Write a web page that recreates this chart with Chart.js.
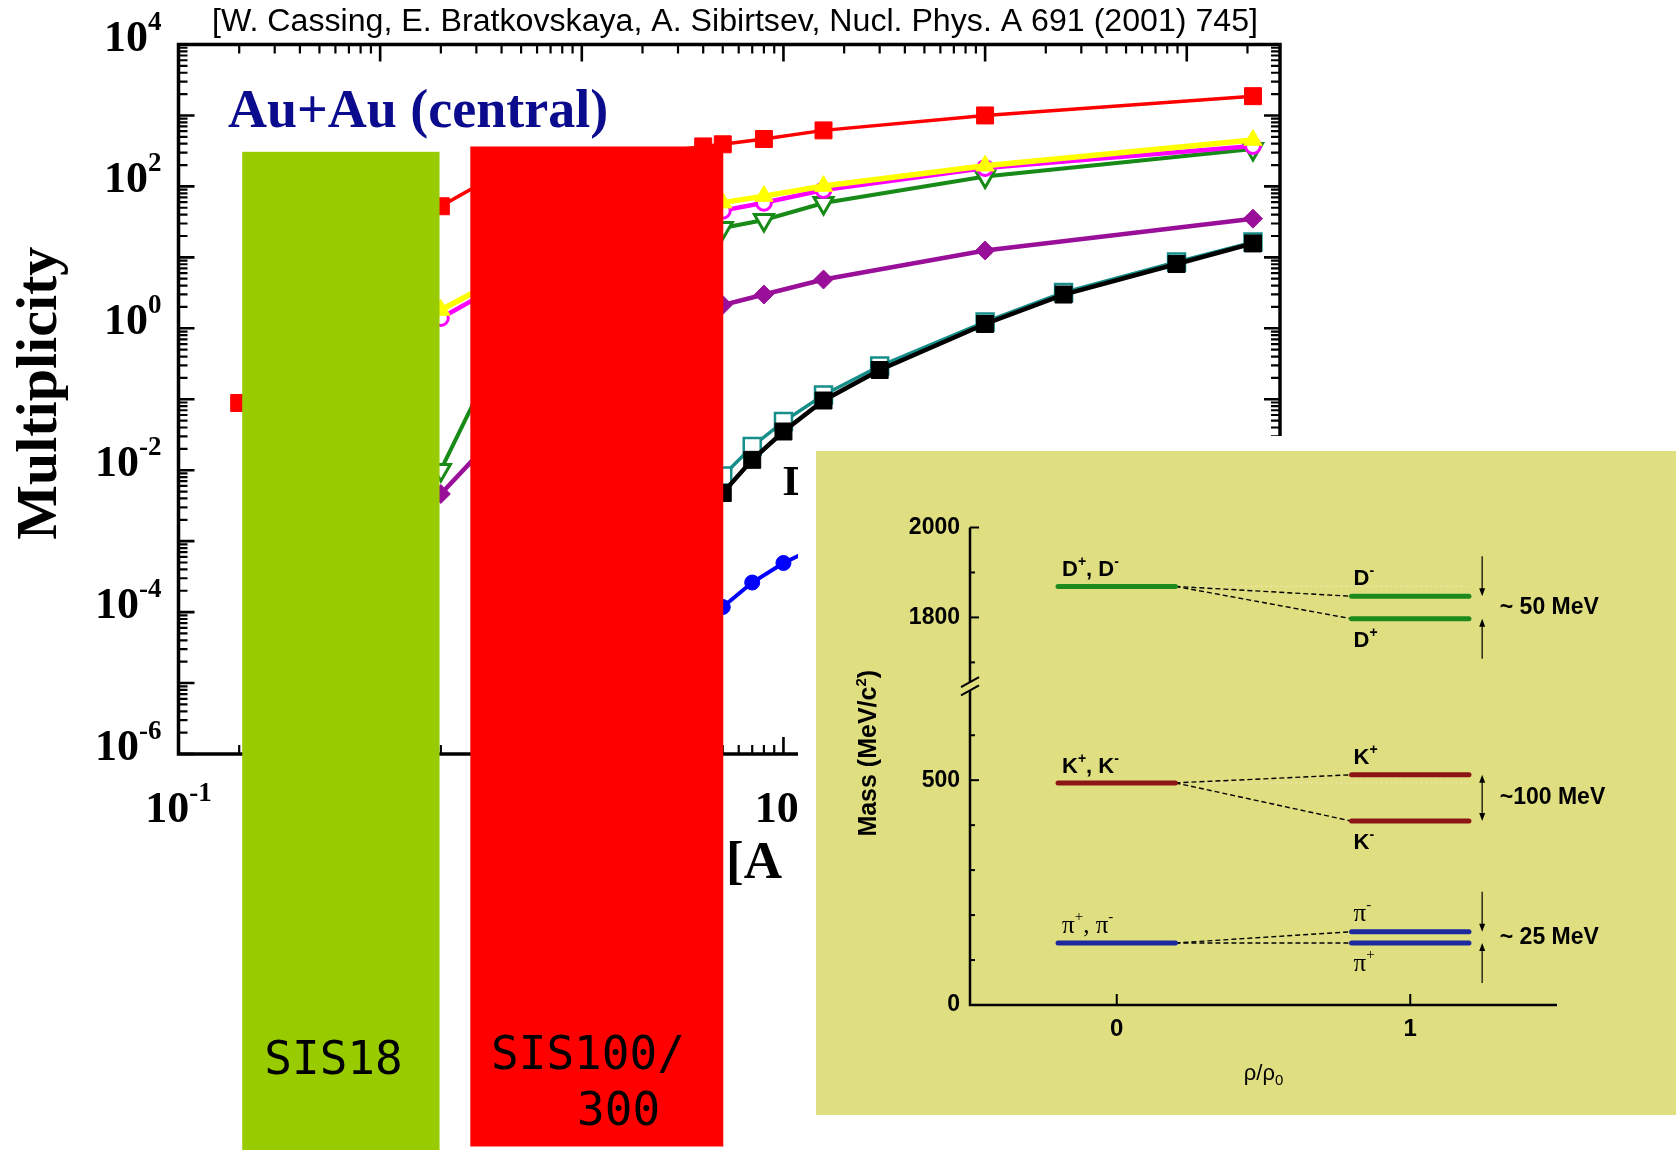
<!DOCTYPE html>
<html>
<head>
<meta charset="utf-8">
<script src="https://cdn.jsdelivr.net/npm/chart.js@4.4.0/dist/chart.umd.min.js"></script>
<style>
  html, body { margin: 0; padding: 0; background: #fff; }
  #page { position: relative; width: 1676px; height: 1150px; overflow: hidden; background: #fff; }
  #main { position: absolute; left: 0; top: 0; }
  #insetMargin { position: absolute; left: 798px; top: 436px; width: 878px; height: 714px; background: #fff; }
  #insetBox { position: absolute; left: 816px; top: 451px; width: 860px; height: 664px; background: #dfde80; }
  #inset { position: absolute; left: 0; top: 0; }
</style>
</head>
<body>
<div id="page">
  <canvas id="main" width="1676" height="1150"></canvas>
  <div id="insetMargin"></div>
  <div id="insetBox"><canvas id="inset" width="860" height="664"></canvas></div>
</div>
<script>
// ---------- Main panel: central Au+Au multiplicities vs. beam energy [A GeV] ----------
const xTickExps = [-1, 0, 1, 2, 3, 4];
const yTickExps = [4, 2, 0, -2, -4, -6];

const eRed = [0.2, 2, 4, 40, 50, 80, 158, 1000, 21300];
const nRed = [0.0885, 52.5, 160, 366, 392, 466, 616, 1000, 1870];

const eYellow = [2, 4, 50, 80, 158, 1000, 21300];
const nYellow = [1.81, 5.2, 59, 73, 101, 196, 450];

const eMagenta = [2, 4, 50, 80, 158, 1000, 21300];
const nMagenta = [1.40, 4.2, 45.5, 58.9, 89, 182, 371];

const eGreen = [2, 4, 50, 80, 158, 1000, 21300];
const nGreen = [0.0101, 0.57, 25.9, 33.6, 58.3, 138, 336];

const ePurple = [2, 4, 50, 80, 158, 1000, 21300];
const nPurple = [0.00462, 0.0376, 2.13, 2.99, 4.88, 12.5, 35.1];

const eCharm = [50, 70, 100, 158, 300, 1000, 2450, 8900, 21300];
const nBlack = [0.00477, 0.0140, 0.0351, 0.0960, 0.258, 1.15, 2.99, 8.05, 15.7];
const nTeal = [0.00828, 0.0216, 0.0485, 0.115, 0.294, 1.23, 3.2, 8.6, 16.4];

const eBlue = [50, 70, 100, 158];
const nBlue = [1.18e-4, 2.61e-4, 4.92e-4, 9.2e-4];

// accelerator energy bands [A GeV]
const bandLabels = [['SIS18'], ['SIS100/', '300']];
const bandLow = [0.207, 2.8];
const bandHigh = [1.97, 50.3];

const citation = '[W. Cassing, E. Bratkovskaya, A. Sibirtsev, Nucl. Phys. A 691 (2001) 745]';
const systemLabel = 'Au+Au (central)';

// ---------- Inset: meson masses in nuclear matter ----------
const rhoColumns = [0, 1];
const mesonNames = ['D', 'K', 'π'];
const vacuumMass = [1869, 494, 138];
const mediumMassHigh = [1847, 512, 163];
const mediumMassLow = [1797, 409, 138];
const splitText = ['~ 50 MeV', '~100 MeV', '~ 25 MeV'];
const massTicksMajor = [0, 500, 1800, 2000];
const massTicksMinor = [100, 200, 300, 400, 600, 1700, 1900];
const rhoTicks = [0, 1];

const SERIF = '"Liberation Serif", "Times New Roman", serif';
const SANS = '"Liberation Sans", Arial, sans-serif';

function pts(e, n) { return e.map((v, i) => ({ x: v, y: n[i] })); }

// text made of normal / superscript / subscript runs
function richText(ctx, parts, x, y, fonts, align) {
  const widths = parts.map(([t, k]) => { ctx.font = fonts[k].font; return ctx.measureText(t).width; });
  const total = widths.reduce((s, w) => s + w, 0);
  let cx = align === 'center' ? x - total / 2 : align === 'right' ? x - total : x;
  ctx.textAlign = 'left';
  parts.forEach(([t, k], i) => {
    ctx.font = fonts[k].font;
    ctx.fillText(t, cx, y + (fonts[k].dy || 0));
    cx += widths[i];
  });
  return total;
}

function powerLabel(ctx, exp, x, y, align) {
  const fonts = { n: { font: 'bold 44px ' + SERIF }, s: { font: 'bold 27px ' + SERIF, dy: -21 } };
  richText(ctx, [['10', 'n'], [String(exp), 's']], x, y, fonts, align);
}

const mainDecor = {
  id: 'mainDecor',
  afterDraw(chart) {
    const { ctx, chartArea: a, scales: { x, y } } = chart;
    ctx.save();
    ctx.fillStyle = '#000';
    ctx.strokeStyle = '#000';
    ctx.textBaseline = 'alphabetic';

    // log ticks on all four sides, pointing inwards
    ctx.lineCap = 'butt';
    for (let d = -1; d <= 4; d++) {
      for (let m = 1; m <= 9; m++) {
        const v = m * Math.pow(10, d);
        if (v < x.min || v > x.max) continue;
        const px = x.getPixelForValue(v);
        const len = m === 1 ? 17 : 9;
        ctx.lineWidth = m === 1 ? 2.6 : 2.2;
        ctx.beginPath();
        ctx.moveTo(px, a.bottom); ctx.lineTo(px, a.bottom - len);
        ctx.moveTo(px, a.top); ctx.lineTo(px, a.top + len);
        ctx.stroke();
      }
    }
    for (let d = -6; d <= 4; d++) {
      for (let m = 1; m <= 9; m++) {
        const v = m * Math.pow(10, d);
        if (v < y.min || v > y.max) continue;
        const py = y.getPixelForValue(v);
        const len = m === 1 ? 16 : 9;
        ctx.lineWidth = m === 1 ? 2.6 : 2.2;
        ctx.beginPath();
        ctx.moveTo(a.left, py); ctx.lineTo(a.left + len, py);
        ctx.moveTo(a.right, py); ctx.lineTo(a.right - len, py);
        ctx.stroke();
      }
    }
    ctx.lineWidth = 3.5;
    ctx.strokeRect(a.left, a.top, a.right - a.left, a.bottom - a.top);

    // tick labels
    yTickExps.forEach(p => powerLabel(ctx, p, a.left - 17, y.getPixelForValue(Math.pow(10, p)) + 6, 'right'));
    xTickExps.forEach(p => powerLabel(ctx, p, x.getPixelForValue(Math.pow(10, p)), a.bottom + 68, 'center'));

    // axis titles
    ctx.save();
    ctx.translate(56, (a.top + a.bottom) / 2 - 6);
    ctx.rotate(-Math.PI / 2);
    ctx.font = 'bold 58px ' + SERIF;
    ctx.textAlign = 'center';
    ctx.fillText('Multiplicity', 0, 0);
    ctx.restore();

    ctx.font = 'bold 53px ' + SERIF;
    ctx.textAlign = 'right';
    ctx.fillText('Energy ', 726, 878);
    ctx.textAlign = 'left';
    ctx.fillText('[A\u2002GeV]', 726, 878);

    // series tag
    ctx.font = 'bold 43px ' + SERIF;
    ctx.fillText('D', 783, 495);

    // system label
    ctx.fillStyle = '#0b0b8e';
    ctx.font = 'bold 54px ' + SERIF;
    ctx.fillText(systemLabel, 228, 127);

    // reference line on top
    ctx.fillStyle = '#000';
    ctx.font = '31px ' + SANS;
    const cw = ctx.measureText(citation).width;
    ctx.save();
    ctx.translate(212, 31);
    ctx.scale(1046 / cw, 1);
    ctx.fillText(citation, 0, 0);
    ctx.restore();

    // accelerator bands drawn over the plot
    const bandColors = ['#99cc00', '#ff0000'];
    const bandTops = [151.8, 146.5];
    const bandBottoms = [1150, 1146.5];
    bandLow.forEach((lo, i) => {
      const x0 = x.getPixelForValue(lo), x1 = x.getPixelForValue(bandHigh[i]);
      ctx.fillStyle = bandColors[i];
      ctx.fillRect(x0, bandTops[i], x1 - x0, bandBottoms[i] - bandTops[i]);
    });
    ctx.fillStyle = '#000';
    ctx.font = '46px "DejaVu Sans Mono", monospace';
    ctx.textAlign = 'center';
    ctx.fillText(bandLabels[0][0], 333.5, 1074);
    ctx.textAlign = 'left';
    ctx.fillText(bandLabels[1][0], 491, 1069);
    ctx.fillText(bandLabels[1][1], 577, 1125);
    ctx.restore();
  }
};

new Chart(document.getElementById('main'), {
  type: 'line',
  data: {
    datasets: [
      { data: pts(eRed, nRed), borderColor: '#ff0000', borderWidth: 3.5, pointStyle: 'rect', pointRadius: 12,
        pointBackgroundColor: '#ff0000', pointBorderColor: '#ff0000', pointBorderWidth: 1, order: 1 },
      { data: pts(eYellow, nYellow), borderColor: '#ffff00', borderWidth: 5.5, pointStyle: 'triangle', pointRadius: 10.5,
        pointBackgroundColor: '#ffff00', pointBorderColor: '#ffff00', pointBorderWidth: 1, order: 2 },
      { data: pts(eMagenta, nMagenta), borderColor: '#ff00ff', borderWidth: 4.5, pointStyle: 'circle', pointRadius: 7.5,
        pointBackgroundColor: '#ffffff', pointBorderColor: '#ff00ff', pointBorderWidth: 3, order: 3 },
      { data: pts(eGreen, nGreen), borderColor: '#178a17', borderWidth: 4, pointStyle: 'triangle', pointRotation: 180, pointRadius: 11,
        pointBackgroundColor: '#ffffff', pointBorderColor: '#178a17', pointBorderWidth: 3, order: 4 },
      { data: pts(ePurple, nPurple), borderColor: '#990f99', borderWidth: 4.5, pointStyle: 'rectRot', pointRadius: 9.5,
        pointBackgroundColor: '#990f99', pointBorderColor: '#990f99', pointBorderWidth: 1, order: 5 },
      { data: pts(eBlue, nBlue), borderColor: '#0000ff', borderWidth: 4, pointStyle: 'circle', pointRadius: 7.5,
        pointBackgroundColor: '#0000ff', pointBorderColor: '#0000ff', pointBorderWidth: 1, order: 6 },
      { data: pts(eCharm, nBlack), borderColor: '#000000', borderWidth: 4.5, pointStyle: 'rect', pointRadius: 12,
        pointBackgroundColor: '#000000', pointBorderColor: '#000000', pointBorderWidth: 1, order: 7 },
      { data: pts(eCharm, nTeal), borderColor: '#168f8a', borderWidth: 3.5, pointStyle: 'rect', pointRadius: 12,
        pointBackgroundColor: '#ffffff', pointBorderColor: '#168f8a', pointBorderWidth: 2.5, order: 8 }
    ]
  },
  options: {
    responsive: false,
    animation: false,
    devicePixelRatio: 1,
    layout: { padding: { left: 178.5, top: 44.5, right: 396, bottom: 396 } },
    plugins: { legend: { display: false }, tooltip: { enabled: false } },
    elements: { line: { tension: 0, fill: false } },
    scales: {
      x: { type: 'logarithmic', min: 0.1, max: 2.9e4, bounds: 'data', display: false },
      y: { type: 'logarithmic', min: 1e-6, max: 1e4, bounds: 'data', display: false }
    }
  },
  plugins: [mainDecor]
});

// ---------- inset chart ----------
const breakMass = 1000;      // masses above this sit on the upper (broken) segment
const upperShift = 938;      // how far the upper segment is pulled down
const toAxis = m => (m > breakMass ? m - upperShift : m);
const levelHalf = 0.2;
const levelColors = ['#1c8a1c', '#8c1616', '#1c2a9e'];

const insetSets = [];
mesonNames.forEach((name, i) => {
  const c = levelColors[i];
  const level = (rho, m) => ({
    data: [{ x: rho - levelHalf, y: toAxis(m) }, { x: rho + levelHalf, y: toAxis(m) }],
    borderColor: c, borderWidth: 5, borderCapStyle: 'round', pointRadius: 0, order: 1
  });
  const link = m => ({
    data: [{ x: rhoColumns[0] + levelHalf, y: toAxis(vacuumMass[i]) }, { x: rhoColumns[1] - levelHalf, y: toAxis(m) }],
    borderColor: '#000', borderWidth: 1.4, borderDash: [5, 3], pointRadius: 0, order: 2
  });
  insetSets.push(level(rhoColumns[0], vacuumMass[i]));
  insetSets.push(level(rhoColumns[1], mediumMassHigh[i]));
  insetSets.push(level(rhoColumns[1], mediumMassLow[i]));
  insetSets.push(link(mediumMassHigh[i]));
  insetSets.push(link(mediumMassLow[i]));
  insetSets.push({
    data: [{ x: rhoColumns[0] + levelHalf, y: toAxis(vacuumMass[i]) }, { x: rhoColumns[1] + levelHalf, y: toAxis(vacuumMass[i]) }],
    borderColor: 'rgba(255,255,255,0.35)', borderWidth: 1.2, borderDash: [2, 3], pointRadius: 0, order: 3
  });
});

function arrow(ctx, x, yFrom, yTo) {
  const dir = Math.sign(yTo - yFrom);
  ctx.beginPath(); ctx.moveTo(x, yFrom); ctx.lineTo(x, yTo - dir * 6); ctx.stroke();
  ctx.beginPath(); ctx.moveTo(x, yTo); ctx.lineTo(x - 3, yTo - dir * 8); ctx.lineTo(x + 3, yTo - dir * 8); ctx.closePath(); ctx.fill();
}

const insetDecor = {
  id: 'insetDecor',
  afterDraw(chart) {
    const { ctx, scales: { x, y } } = chart;
    const X = v => x.getPixelForValue(v);
    const Y = m => y.getPixelForValue(toAxis(m));
    const ax = X(x.min), ay = Y(0);
    ctx.save();
    ctx.strokeStyle = '#000'; ctx.fillStyle = '#000';

    // axes with a break between the light and the charmed mesons
    ctx.lineWidth = 2.5;
    const bLo = y.getPixelForValue(700), bHi = y.getPixelForValue(718);
    ctx.beginPath();
    ctx.moveTo(X(x.max), ay); ctx.lineTo(ax, ay); ctx.lineTo(ax, bLo);
    ctx.moveTo(ax, bHi); ctx.lineTo(ax, Y(2000));
    ctx.stroke();
    ctx.lineWidth = 2;
    [bLo, bHi].forEach(py => { ctx.beginPath(); ctx.moveTo(ax - 9, py + 5); ctx.lineTo(ax + 9, py - 5); ctx.stroke(); });

    massTicksMajor.forEach(m => { if (m > 0) { ctx.beginPath(); ctx.moveTo(ax, Y(m)); ctx.lineTo(ax + 9, Y(m)); ctx.stroke(); } });
    massTicksMinor.forEach(m => { ctx.beginPath(); ctx.moveTo(ax, Y(m)); ctx.lineTo(ax + 5, Y(m)); ctx.stroke(); });
    rhoTicks.forEach(r => { ctx.beginPath(); ctx.moveTo(X(r), ay); ctx.lineTo(X(r), ay - 11); ctx.stroke(); });

    ctx.font = 'bold 23px ' + SANS;
    ctx.textBaseline = 'middle';
    ctx.textAlign = 'right';
    massTicksMajor.forEach(m => ctx.fillText(String(m), ax - 10, Y(m)));
    ctx.textAlign = 'center';
    ctx.font = 'bold 24px ' + SANS;
    rhoTicks.forEach(r => ctx.fillText(String(r), X(r), ay + 24));

    ctx.textBaseline = 'alphabetic';
    // axis titles
    ctx.save();
    ctx.translate(60, (ay + Y(2000)) / 2 - 13);
    ctx.rotate(-Math.PI / 2);
    richText(ctx, [['Mass (MeV/c', 'n'], ['2', 's'], [')', 'n']], 0, 0,
      { n: { font: 'bold 25px ' + SANS }, s: { font: 'bold 15px ' + SANS, dy: -10 } }, 'center');
    ctx.restore();
    richText(ctx, [['ρ/ρ', 'n'], ['0', 'b']], (X(x.min) + X(x.max)) / 2, ay + 75,
      { n: { font: '22px ' + SANS }, b: { font: '15px ' + SANS, dy: 5 } }, 'center');

    // level labels, splittings and arrows
    const sansF = { n: { font: 'bold 22px ' + SANS }, s: { font: 'bold 14px ' + SANS, dy: -10 } };
    const serifF = { n: { font: '25px ' + SERIF }, s: { font: '15px ' + SERIF, dy: -12 } };
    const hiSign = ['-', '+', '-'];
    const loSign = ['+', '-', '+'];
    mesonNames.forEach((name, i) => {
      const f = name === 'π' ? serifF : sansF;
      richText(ctx, [[name, 'n'], ['+', 's'], [', ' + name, 'n'], ['-', 's']],
        X(rhoColumns[0] - levelHalf) + 4, Y(vacuumMass[i]) - 10, f, 'left');
      richText(ctx, [[name, 'n'], [hiSign[i], 's']], X(rhoColumns[1] - levelHalf) + 2, Y(mediumMassHigh[i]) - 11, f, 'left');
      richText(ctx, [[name, 'n'], [loSign[i], 's']], X(rhoColumns[1] - levelHalf) + 2, Y(mediumMassLow[i]) + 28, f, 'left');

      const arX = X(1.245);
      const yH = Y(mediumMassHigh[i]), yL = Y(mediumMassLow[i]);
      ctx.lineWidth = 1.2;
      if (mediumMassHigh[i] - mediumMassLow[i] < 60) {
        arrow(ctx, arX, yH - 40, yH);
        arrow(ctx, arX, yL + 40, yL);
      } else {
        arrow(ctx, arX, (yH + yL) / 2, yH);
        arrow(ctx, arX, (yH + yL) / 2, yL);
      }
      ctx.font = 'bold 23px ' + SANS;
      ctx.textAlign = 'left';
      ctx.textBaseline = 'middle';
      ctx.fillText(splitText[i], X(1.305), (yH + yL) / 2);
      ctx.textBaseline = 'alphabetic';
    });
    ctx.restore();
  }
};

new Chart(document.getElementById('inset'), {
  type: 'line',
  data: { datasets: insetSets },
  options: {
    responsive: false,
    animation: false,
    devicePixelRatio: 1,
    layout: { padding: { left: 154, top: 76.5, right: 119, bottom: 110 } },
    plugins: { legend: { display: false }, tooltip: { enabled: false } },
    elements: { line: { tension: 0, fill: false } },
    scales: {
      x: { type: 'linear', min: -0.5, max: 1.5, display: false },
      y: { type: 'linear', min: 0, max: 1062, display: false }
    }
  },
  plugins: [insetDecor]
});
</script>
</body>
</html>
